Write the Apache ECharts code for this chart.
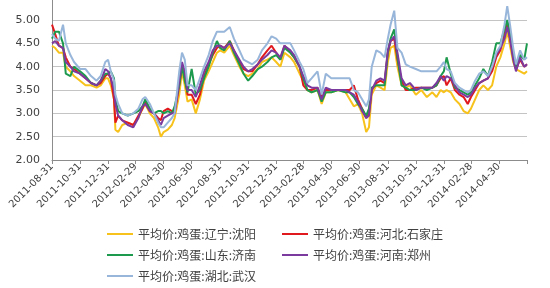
<!DOCTYPE html>
<html><head><meta charset="utf-8">
<script src="https://cdn.jsdelivr.net/npm/echarts@6/dist/echarts.min.js"></script>
<style>html,body{margin:0;padding:0;background:#fff}#c{width:550px;height:288px}</style>
</head><body><div id="c"></div>
<script>
const seriesNames = ['平均价:鸡蛋:辽宁:沈阳','平均价:鸡蛋:河北:石家庄','平均价:鸡蛋:山东:济南','平均价:鸡蛋:河南:郑州','平均价:鸡蛋:湖北:武汉'];
const tickLabels = ['2011-08-31','2011-10-31','2011-12-31','2012-02-29','2012-04-30','2012-06-30','2012-08-31','2012-10-31','2012-12-31','2013-02-28','2013-04-30','2013-06-30','2013-08-31','2013-10-31','2013-12-31','2014-02-28','2014-04-30'];
const axisStart = '2011-08-31';
const axisEnd = '2014-06-30';
const dates = [
'2011-08-31','2011-09-07','2011-09-15','2011-09-24','2011-09-30','2011-10-10','2011-10-18','2011-10-31','2011-11-12','2011-11-24',
'2011-12-06','2011-12-15','2011-12-25','2011-12-31','2012-01-06','2012-01-13','2012-01-16','2012-01-22','2012-01-31','2012-02-12',
'2012-02-24','2012-03-06','2012-03-15','2012-03-21','2012-03-31','2012-04-09','2012-04-18','2012-04-24','2012-04-30','2012-05-09',
'2012-05-18','2012-05-24','2012-06-03','2012-06-09','2012-06-15','2012-06-21','2012-06-30','2012-07-09','2012-07-18','2012-07-27',
'2012-08-06','2012-08-15','2012-08-24','2012-08-31','2012-09-09','2012-09-21','2012-09-30','2012-10-12','2012-10-21','2012-10-31',
'2012-11-09','2012-11-21','2012-11-30','2012-12-12','2012-12-21','2012-12-31','2013-01-09','2013-01-18','2013-01-31','2013-02-08',
'2013-02-20','2013-02-28','2013-03-09','2013-03-18','2013-03-31','2013-04-09','2013-04-18','2013-04-30','2013-05-15','2013-05-31',
'2013-06-09','2013-06-18','2013-06-27','2013-07-06','2013-07-15','2013-07-21','2013-07-27','2013-08-06','2013-08-15','2013-08-24',
'2013-08-31','2013-09-06','2013-09-14','2013-09-21','2013-09-30','2013-10-09','2013-10-18','2013-10-31','2013-11-12','2013-11-24',
'2013-12-06','2013-12-15','2013-12-24','2013-12-31','2014-01-06','2014-01-15','2014-01-24','2014-02-03','2014-02-12','2014-02-21',
'2014-02-28','2014-03-09','2014-03-18','2014-03-27','2014-04-06','2014-04-15','2014-04-24','2014-05-03','2014-05-12','2014-05-18',
'2014-05-24','2014-05-31','2014-06-06','2014-06-15','2014-06-24','2014-06-30'];
const shenyang = [
4.45,4.4,4.3,4.3,4.0,3.9,3.8,3.7,3.6,3.6,
3.55,3.6,3.75,3.75,3.6,3.3,2.65,2.6,2.75,2.8,
2.75,2.9,3.1,3.2,3.0,2.9,2.7,2.5,2.6,2.65,
2.75,2.9,3.4,3.9,3.6,3.25,3.3,3.0,3.3,3.7,
3.9,4.1,4.3,4.35,4.3,4.45,4.25,4.0,3.85,3.8,
3.85,3.95,4.1,4.15,4.2,4.1,4.0,4.3,4.2,4.1,
3.85,3.7,3.5,3.45,3.5,3.2,3.45,3.45,3.5,3.45,
3.3,3.15,3.2,3.0,2.6,2.7,3.4,3.6,3.55,3.5,
4.1,4.4,4.45,4.0,3.6,3.55,3.6,3.4,3.5,3.35,
3.45,3.35,3.5,3.45,3.5,3.45,3.3,3.2,3.05,3.0,
3.1,3.3,3.5,3.6,3.5,3.6,4.0,4.2,4.5,4.75,
4.45,4.1,3.95,3.9,3.85,3.9];
const shijiazhuang = [
4.9,4.7,4.45,4.4,4.2,4.0,3.95,3.85,3.75,3.65,
3.6,3.65,3.8,3.85,3.75,3.3,2.8,2.95,2.85,2.8,
2.75,2.95,3.1,3.25,3.05,3.0,2.9,2.85,3.05,3.1,
3.05,3.0,3.6,4.0,3.8,3.4,3.4,3.2,3.4,3.8,
4.05,4.25,4.4,4.45,4.4,4.55,4.35,4.1,3.95,3.9,
3.9,4.05,4.2,4.35,4.45,4.3,4.15,4.45,4.3,4.2,
4.0,3.6,3.5,3.5,3.55,3.35,3.5,3.5,3.5,3.5,
3.5,3.6,3.3,3.1,2.9,3.0,3.5,3.65,3.7,3.65,
4.3,4.55,4.6,4.15,3.7,3.5,3.5,3.55,3.55,3.55,
3.55,3.6,3.75,3.8,3.6,3.75,3.5,3.4,3.35,3.2,
3.35,3.5,3.65,3.7,3.75,3.9,4.2,4.35,4.7,4.95,
4.6,4.2,3.95,4.15,4.0,4.05];
const jinan = [
4.6,4.75,4.75,4.5,3.85,3.8,4.0,3.9,3.8,3.65,
3.6,3.7,3.85,3.85,3.9,3.75,3.3,3.05,3.0,2.95,
3.0,3.05,3.15,3.3,3.1,3.0,3.05,3.05,3.0,3.05,
3.0,3.15,3.6,4.0,3.7,3.45,3.95,3.4,3.5,3.75,
4.0,4.3,4.55,4.4,4.35,4.55,4.3,4.05,3.85,3.7,
3.8,3.95,4.0,4.1,4.2,4.25,4.15,4.4,4.3,4.2,
4.0,3.75,3.5,3.45,3.5,3.25,3.45,3.45,3.5,3.45,
3.45,3.35,3.2,3.1,2.95,3.1,3.55,3.6,3.6,3.6,
4.3,4.6,4.8,4.2,3.6,3.55,3.5,3.5,3.55,3.5,
3.55,3.6,3.8,3.9,4.2,3.85,3.55,3.5,3.45,3.4,
3.45,3.6,3.75,3.95,3.8,4.1,4.5,4.5,4.8,5.0,
4.7,4.3,4.0,4.25,4.15,4.5];
const zhengzhou = [
4.5,4.55,4.45,4.4,4.1,4.0,3.9,3.85,3.75,3.65,
3.6,3.7,3.95,3.9,3.75,3.5,3.2,2.95,2.85,2.75,
2.7,2.9,3.15,3.2,3.05,3.0,2.85,2.75,2.9,2.95,
3.0,3.0,3.7,4.1,3.9,3.5,3.5,3.35,3.6,3.9,
4.1,4.35,4.45,4.45,4.4,4.5,4.35,4.15,4.0,3.9,
3.95,4.05,4.15,4.25,4.35,4.3,4.2,4.45,4.35,4.25,
4.0,3.8,3.6,3.55,3.55,3.3,3.55,3.5,3.5,3.5,
3.45,3.4,3.25,3.05,2.9,2.95,3.5,3.7,3.75,3.7,
4.35,4.55,4.65,4.3,3.75,3.6,3.65,3.5,3.55,3.55,
3.55,3.65,3.8,3.7,3.8,3.75,3.6,3.45,3.4,3.35,
3.4,3.55,3.65,3.7,3.75,4.0,4.25,4.4,4.6,4.85,
4.6,4.15,3.9,4.2,4.0,4.05];
const wuhan = [
4.7,4.6,4.55,4.9,4.5,4.25,4.1,3.95,3.95,3.8,
3.7,3.8,4.1,4.15,3.9,3.7,3.4,3.2,3.0,2.95,
3.0,3.1,3.3,3.35,3.2,3.0,2.8,2.7,2.7,2.8,
2.9,3.0,3.9,4.3,4.15,3.6,3.6,3.5,3.75,4.0,
4.25,4.55,4.75,4.75,4.75,4.85,4.6,4.35,4.15,4.1,
4.05,4.15,4.35,4.5,4.65,4.6,4.5,4.5,4.5,4.35,
4.1,3.95,3.65,3.75,3.9,3.4,3.85,3.75,3.75,3.75,
3.75,3.5,3.45,3.3,3.15,3.3,4.0,4.35,4.3,4.2,
4.6,4.9,5.2,4.4,4.3,4.05,4.0,3.95,3.9,3.9,
3.9,3.9,4.0,4.1,3.95,3.9,3.65,3.55,3.5,3.45,
3.5,3.7,3.85,3.9,3.8,4.0,4.3,4.45,4.9,5.3,
4.9,4.4,4.05,4.35,4.15,4.2];

const colors = ['#F7C21B','#E0191F','#1E9A4E','#7B3A9E','#98B6DA'];
const values = [shenyang, shijiazhuang, jinan, zhengzhou, wuhan];
const ts = d => Date.parse(d);

const chart = echarts.init(document.getElementById('c'), null, {renderer:'canvas'});
const legendPos = [[107,228],[282,228],[107,249],[282,249],[107,270]];
const option = {
  animation:false,
  backgroundColor:'#fff',
  color: colors,
  grid:{left:52, right:23, top:-3.3, bottom:128, containLabel:false, outerBoundsMode:'none'},
  legend: seriesNames.map((n,i)=>({
    data:[n], left:legendPos[i][0], top:legendPos[i][1], padding:0,
    icon:'rect', itemWidth:26, itemHeight:2, itemGap:5,
    textStyle:{fontFamily:'Noto Sans CJK SC', fontSize:12, color:'#404040'}
  })),
  xAxis:{
    type:'value', min:ts(axisStart), max:ts(axisEnd),
    axisLine:{show:true, lineStyle:{color:'#8c8c8c', width:1}},
    axisTick:{show:true, length:4, lineStyle:{color:'#8c8c8c'}, customValues: tickLabels.map(ts).concat([ts(axisEnd)])},
    axisLabel:{customValues: tickLabels.map(ts), rotate:45, fontSize:10, fontFamily:'DejaVu Sans', color:'#404040', margin:5,
      formatter: v => new Date(v).toISOString().slice(0,10)},
    splitLine:{show:false}
  },
  yAxis:{
    type:'value', min:2, max:5.5, interval:0.5,
    axisLine:{show:true, lineStyle:{color:'#8c8c8c', width:1}},
    axisTick:{show:false},
    axisLabel:{fontSize:11, fontFamily:'DejaVu Sans', color:'#404040', margin:12, formatter: v => v.toFixed(2)},
    splitLine:{show:true, lineStyle:{color:'#c4c4c4', width:1}}
  },
  series: seriesNames.map((n,i)=>({
    name:n, type:'line', showSymbol:false, symbol:'none',
    lineStyle:{width:2, color:colors[i]},
    data: dates.map((d,k)=>[ts(d), values[i][k]])
  }))
};
chart.setOption(option);
</script></body></html>
